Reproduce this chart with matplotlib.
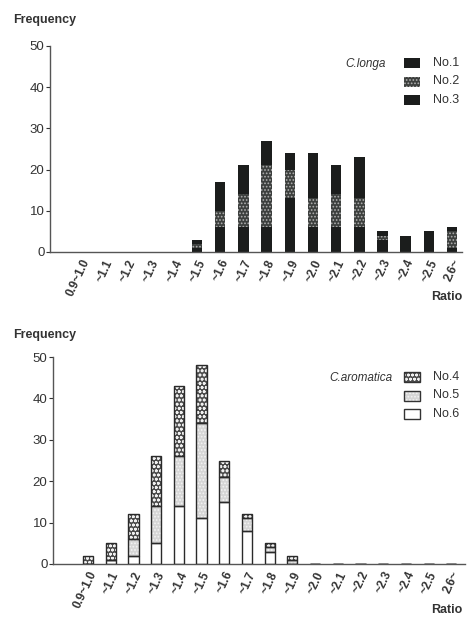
import numpy as np
import matplotlib.pyplot as plt
from matplotlib.patches import Rectangle

plt.rcParams['font.family'] = ['Liberation Sans', 'DejaVu Sans']
plt.rcParams['hatch.linewidth'] = 0.8

# ratio classes (x axis)
ratio_labels = ['0.9~1.0', '~1.1', '~1.2', '~1.3', '~1.4', '~1.5', '~1.6', '~1.7',
                '~1.8', '~1.9', '~2.0', '~2.1', '~2.2', '~2.3', '~2.4', '~2.5', '2.6~']

# C.longa: frequencies per sample (stacked No.1 bottom, No.2, No.3 top)
longa_no1 = [0, 0, 0, 0, 0, 1, 6, 6, 6, 13, 6, 6, 6, 3, 2, 3, 1]
longa_no2 = [0, 0, 0, 0, 0, 1, 4, 8, 15, 7, 7, 8, 7, 1, 0, 0, 4]
longa_no3 = [0, 0, 0, 0, 0, 1, 7, 7, 6, 4, 11, 7, 10, 1, 2, 2, 1]

# C.aromatica: frequencies per sample (stacked No.6 bottom, No.5, No.4 top)
arom_no6 = [0, 1, 2, 5, 14, 11, 15, 8, 3, 0, 0, 0, 0, 0, 0, 0, 0]
arom_no5 = [0, 0, 4, 9, 12, 23, 6, 3, 1, 1, 0, 0, 0, 0, 0, 0, 0]
arom_no4 = [2, 4, 6, 12, 17, 14, 4, 1, 1, 1, 0, 0, 0, 0, 0, 0, 0]

W, H = 469, 619
fig = plt.figure(figsize=(W / 100, H / 100), dpi=100)


def fx(px):
    return px / W


def fy(py):
    return 1 - py / H


# segment styles: (face colour, hatch, hatch colour)
dark = ('#1b1d1c', None, '#1b1d1c')
dotted_dark = ('#3c3f3d', '.....', '#b0b0b0')
circles = ('#4a4a4a', 'oooo', '#f0f0f0')
light_dots = ('#d6d6d6', '.....', '#f4f4f4')
white = ('#ffffff', None, '#ffffff')


def stacked(ax, series, styles, outline, width=0.45):
    x = np.arange(len(ratio_labels))
    bottom = np.zeros(len(x))
    for vals, (fc, hatch, hc) in zip(series, styles):
        vals = np.array(vals, dtype=float)
        ax.bar(x, vals, width, bottom=bottom, color=fc, edgecolor=hc,
               hatch=hatch, linewidth=0, zorder=2)
        if outline:
            ax.bar(x, vals, width, bottom=bottom, fill=False,
                   edgecolor='#2a2a2a', linewidth=1.0, zorder=3)
        bottom += vals


def style_axes(ax, xlim):
    ax.set_xlim(*xlim)
    ax.set_ylim(0, 50)
    ax.set_yticks([0, 10, 20, 30, 40, 50])
    ax.tick_params(axis='y', length=3, width=0.8, labelsize=9.5, colors='#333333',
                   pad=1)
    ax.set_xticks(np.arange(len(ratio_labels)))
    ax.set_xticklabels(ratio_labels, rotation=65, ha='right',
                       rotation_mode='anchor', fontsize=8.5, fontweight='bold',
                       color='#333333')
    ax.tick_params(axis='x', length=0, pad=4)
    for s in ['top', 'right']:
        ax.spines[s].set_visible(False)
    for s in ['left', 'bottom']:
        ax.spines[s].set_color('#555555')
        ax.spines[s].set_linewidth(1.0)


def legend(species, ytop, labels, styles, outline, sx):
    fig.text(fx(sx), fy(ytop + 6), species, style='italic', fontsize=8.5,
             ha='right', va='center', color='#333333')
    for i, (lab, (fc, hatch, hc)) in enumerate(zip(labels, styles)):
        y = ytop + i * 18.5
        r = Rectangle((fx(404), fy(y + 10)), fx(16), 10 / H, transform=fig.transFigure,
                      facecolor=fc, edgecolor=hc, hatch=hatch, linewidth=0)
        fig.add_artist(r)
        if outline:
            fig.add_artist(Rectangle((fx(404), fy(y + 10)), fx(16), 10 / H,
                                     transform=fig.transFigure, fill=False,
                                     edgecolor='#333333', linewidth=1.0))
        fig.text(fx(433), fy(y + 5), lab, fontsize=9, ha='left', va='center',
                 color='#333333')


# top panel: C.longa
ax1 = fig.add_axes([fx(50), fy(252), fx(412), (252 - 46) / H])
stacked(ax1, [longa_no1, longa_no2, longa_no3], [dark, dotted_dark, dark], False)
style_axes(ax1, (-1.34, 16.43))
fig.text(fx(13), fy(20), 'Frequency', fontsize=9, fontweight='bold',
         ha='left', va='center', color='#333333')
fig.text(fx(462), fy(297), 'Ratio', fontsize=9, fontweight='bold',
         ha='right', va='center', color='#333333')
legend('C.longa', 58, ['No.1', 'No.2', 'No.3'], [dark, dotted_dark, dark], False, 386)

# bottom panel: C.aromatica
ax2 = fig.add_axes([fx(53), fy(564), fx(412), (564 - 357) / H])
stacked(ax2, [arom_no6, arom_no5, arom_no4], [white, light_dots, circles], True)
style_axes(ax2, (-1.54, 16.6))
fig.text(fx(13), fy(335), 'Frequency', fontsize=9, fontweight='bold',
         ha='left', va='center', color='#333333')
fig.text(fx(462), fy(610), 'Ratio', fontsize=9, fontweight='bold',
         ha='right', va='center', color='#333333')
legend('C.aromatica', 372, ['No.4', 'No.5', 'No.6'], [circles, light_dots, white], True, 392)

fig.savefig('out.png', dpi=100)
